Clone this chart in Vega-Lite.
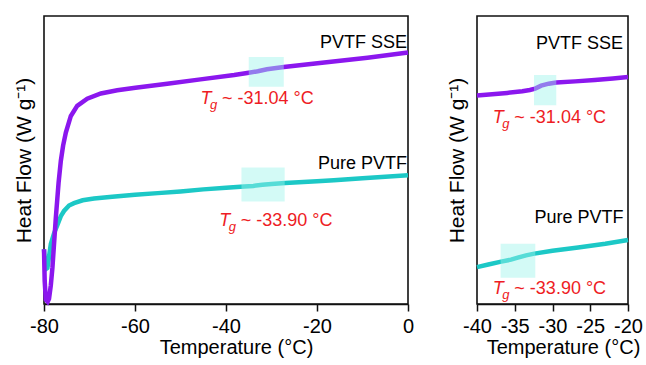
{
  "$schema": "https://vega.github.io/schema/vega-lite/v6.json",
  "background": "white",
  "padding": {"left": 12, "top": 15, "right": 5, "bottom": 5},
  "spacing": 27,
  "config": {
    "font": "Liberation Sans",
    "view": {"stroke": "#111", "strokeWidth": 1.6},
    "axis": {"grid": false, "labelColor": "#000", "titleColor": "#000", "titleFontWeight": "normal", "labelFont": "Liberation Sans", "titleFont": "Liberation Sans"},
    "axisX": {"labelFontSize": 20, "titleFontSize": 20, "tickSize": 7, "tickWidth": 1.5, "tickColor": "#111", "domainColor": "#111", "domainWidth": 1.6, "labelFlush": false, "labelOverlap": false, "labelPadding": 5, "titlePadding": 1, "labelExpr": "replace(datum.label, '−', '-')"},
    "axisY": {"labels": false, "ticks": false, "domain": false, "titleFontSize": 21, "titlePadding": 9.5}
  },
  "datasets": {
    "curves": [
      {"panel": "L", "series": "Pure PVTF", "T": -80, "HF": 19},
      {"panel": "L", "series": "Pure PVTF", "T": -79.7, "HF": 12},
      {"panel": "L", "series": "Pure PVTF", "T": -79.25, "HF": 12.5},
      {"panel": "L", "series": "Pure PVTF", "T": -78.5, "HF": 20.8},
      {"panel": "L", "series": "Pure PVTF", "T": -77.8, "HF": 24.5},
      {"panel": "L", "series": "Pure PVTF", "T": -77.05, "HF": 27.5},
      {"panel": "L", "series": "Pure PVTF", "T": -76.3, "HF": 30.5},
      {"panel": "L", "series": "Pure PVTF", "T": -75.6, "HF": 32.3},
      {"panel": "L", "series": "Pure PVTF", "T": -74.5, "HF": 34.2},
      {"panel": "L", "series": "Pure PVTF", "T": -73.4, "HF": 35.0},
      {"panel": "L", "series": "Pure PVTF", "T": -71.5, "HF": 36.0},
      {"panel": "L", "series": "Pure PVTF", "T": -69, "HF": 36.6},
      {"panel": "L", "series": "Pure PVTF", "T": -65, "HF": 37.2},
      {"panel": "L", "series": "Pure PVTF", "T": -60, "HF": 37.9},
      {"panel": "L", "series": "Pure PVTF", "T": -55, "HF": 38.5},
      {"panel": "L", "series": "Pure PVTF", "T": -50, "HF": 39.1},
      {"panel": "L", "series": "Pure PVTF", "T": -45, "HF": 39.8},
      {"panel": "L", "series": "Pure PVTF", "T": -40, "HF": 40.4},
      {"panel": "L", "series": "Pure PVTF", "T": -36, "HF": 40.8},
      {"panel": "L", "series": "Pure PVTF", "T": -34, "HF": 41.0},
      {"panel": "L", "series": "Pure PVTF", "T": -32, "HF": 41.4},
      {"panel": "L", "series": "Pure PVTF", "T": -30, "HF": 41.7},
      {"panel": "L", "series": "Pure PVTF", "T": -27, "HF": 42.0},
      {"panel": "L", "series": "Pure PVTF", "T": -20, "HF": 42.6},
      {"panel": "L", "series": "Pure PVTF", "T": -16.3, "HF": 43.0},
      {"panel": "L", "series": "Pure PVTF", "T": -10, "HF": 43.7},
      {"panel": "L", "series": "Pure PVTF", "T": 0, "HF": 44.7},
      {"panel": "L", "series": "PVTF SSE", "T": -80, "HF": 19},
      {"panel": "L", "series": "PVTF SSE", "T": -79.85, "HF": 8},
      {"panel": "L", "series": "PVTF SSE", "T": -79.6, "HF": 1.5},
      {"panel": "L", "series": "PVTF SSE", "T": -79.2, "HF": 0.8},
      {"panel": "L", "series": "PVTF SSE", "T": -78.9, "HF": 1.8},
      {"panel": "L", "series": "PVTF SSE", "T": -78.5, "HF": 6.5},
      {"panel": "L", "series": "PVTF SSE", "T": -78.15, "HF": 12.6},
      {"panel": "L", "series": "PVTF SSE", "T": -77.4, "HF": 30},
      {"panel": "L", "series": "PVTF SSE", "T": -76.8, "HF": 42},
      {"panel": "L", "series": "PVTF SSE", "T": -76.3, "HF": 49.7},
      {"panel": "L", "series": "PVTF SSE", "T": -75.8, "HF": 55},
      {"panel": "L", "series": "PVTF SSE", "T": -75.2, "HF": 59.5},
      {"panel": "L", "series": "PVTF SSE", "T": -74.1, "HF": 65.3},
      {"panel": "L", "series": "PVTF SSE", "T": -72.7, "HF": 68.8},
      {"panel": "L", "series": "PVTF SSE", "T": -70.5, "HF": 71.3},
      {"panel": "L", "series": "PVTF SSE", "T": -67.5, "HF": 73.1},
      {"panel": "L", "series": "PVTF SSE", "T": -63.9, "HF": 74.2},
      {"panel": "L", "series": "PVTF SSE", "T": -59.9, "HF": 75.1},
      {"panel": "L", "series": "PVTF SSE", "T": -52.9, "HF": 76.5},
      {"panel": "L", "series": "PVTF SSE", "T": -45.6, "HF": 78.0},
      {"panel": "L", "series": "PVTF SSE", "T": -38.2, "HF": 79.5},
      {"panel": "L", "series": "PVTF SSE", "T": -35, "HF": 80.3},
      {"panel": "L", "series": "PVTF SSE", "T": -33, "HF": 80.8},
      {"panel": "L", "series": "PVTF SSE", "T": -31, "HF": 81.5},
      {"panel": "L", "series": "PVTF SSE", "T": -27.3, "HF": 82.3},
      {"panel": "L", "series": "PVTF SSE", "T": -19.9, "HF": 83.6},
      {"panel": "L", "series": "PVTF SSE", "T": -8.9, "HF": 85.5},
      {"panel": "L", "series": "PVTF SSE", "T": 0, "HF": 87.3},
      {"panel": "R", "series": "Pure PVTF", "T": -40, "HF": 12.8},
      {"panel": "R", "series": "Pure PVTF", "T": -38.5, "HF": 13.7},
      {"panel": "R", "series": "Pure PVTF", "T": -36.8, "HF": 14.7},
      {"panel": "R", "series": "Pure PVTF", "T": -35.5, "HF": 15.4},
      {"panel": "R", "series": "Pure PVTF", "T": -34.6, "HF": 16.1},
      {"panel": "R", "series": "Pure PVTF", "T": -33.5, "HF": 16.9},
      {"panel": "R", "series": "Pure PVTF", "T": -32.4, "HF": 17.5},
      {"panel": "R", "series": "Pure PVTF", "T": -30, "HF": 18.5},
      {"panel": "R", "series": "Pure PVTF", "T": -26.6, "HF": 19.6},
      {"panel": "R", "series": "Pure PVTF", "T": -23, "HF": 20.9},
      {"panel": "R", "series": "Pure PVTF", "T": -20, "HF": 22.2},
      {"panel": "R", "series": "PVTF SSE", "T": -40, "HF": 72.4},
      {"panel": "R", "series": "PVTF SSE", "T": -38, "HF": 72.8},
      {"panel": "R", "series": "PVTF SSE", "T": -36, "HF": 73.3},
      {"panel": "R", "series": "PVTF SSE", "T": -34, "HF": 73.9},
      {"panel": "R", "series": "PVTF SSE", "T": -33, "HF": 74.3},
      {"panel": "R", "series": "PVTF SSE", "T": -32.3, "HF": 74.8},
      {"panel": "R", "series": "PVTF SSE", "T": -31.5, "HF": 75.8},
      {"panel": "R", "series": "PVTF SSE", "T": -30.5, "HF": 76.5},
      {"panel": "R", "series": "PVTF SSE", "T": -29.5, "HF": 76.9},
      {"panel": "R", "series": "PVTF SSE", "T": -27, "HF": 77.3},
      {"panel": "R", "series": "PVTF SSE", "T": -24.4, "HF": 77.8},
      {"panel": "R", "series": "PVTF SSE", "T": -22, "HF": 78.3},
      {"panel": "R", "series": "PVTF SSE", "T": -20, "HF": 78.8}
    ],
    "boxes": [
      {"panel": "L", "T": -35, "T2": -27.3, "HF": 75.4, "HF2": 85.8},
      {"panel": "L", "T": -36.6, "T2": -27.1, "HF": 35.6, "HF2": 47.4},
      {"panel": "R", "T": -32.45, "T2": -29.5, "HF": 69.0, "HF2": 79.5},
      {"panel": "R", "T": -36.87, "T2": -32.28, "HF": 9.1, "HF2": 20.9}
    ],
    "names": [
      {"panel": "L", "T": 0, "HF": 89.0, "label": "PVTF SSE"},
      {"panel": "L", "T": 0, "HF": 46.8, "label": "Pure PVTF"},
      {"panel": "R", "T": -20.66, "HF": 88.5, "label": "PVTF SSE"},
      {"panel": "R", "T": -20.6, "HF": 28.2, "label": "Pure PVTF"}
    ],
    "tg": [
      {"panel": "L", "T": -45.6, "HF": 69.4, "sym": "T", "sub": "g", "rest": "~ -31.04 °C"},
      {"panel": "L", "T": -41.5, "HF": 27.1, "sym": "T", "sub": "g", "rest": "~ -33.90 °C"},
      {"panel": "R", "T": -37.9, "HF": 63.0, "sym": "T", "sub": "g", "rest": "~ -31.04 °C"},
      {"panel": "R", "T": -37.9, "HF": 3.5, "sym": "T", "sub": "g", "rest": "~ -33.90 °C"}
    ]
  },
  "hconcat": [
    {
      "width": 364,
      "height": 288,
      "encoding": {
        "x": {"field": "T", "type": "quantitative", "scale": {"domain": [-80, 0], "nice": false, "zero": false}, "axis": {"values": [-80, -60, -40, -20, 0], "labelOverlap": false, "title": "Temperature (°C)", "titleX": 192}},
        "y": {"field": "HF", "type": "quantitative", "scale": {"domain": [0, 100], "nice": false, "zero": false}, "axis": {"title": "Heat Flow (W g⁻¹)"}}
      },
      "layer": [
        {
          "data": {"name": "curves"},
          "transform": [{"filter": "datum.panel === 'L' && datum.series === 'Pure PVTF'"}],
          "mark": {"type": "line", "color": "#1cc8c6", "strokeWidth": 4.5}
        },
        {
          "data": {"name": "curves"},
          "transform": [{"filter": "datum.panel === 'L' && datum.series === 'PVTF SSE'"}],
          "mark": {"type": "line", "color": "#8b17ee", "strokeWidth": 4.5}
        },
        {
          "data": {"name": "boxes"},
          "transform": [{"filter": "datum.panel === 'L'"}],
          "mark": {"type": "rect", "color": "#9ef3ec", "opacity": 0.45},
          "encoding": {"x2": {"field": "T2"}, "y2": {"field": "HF2"}}
        },
        {
          "data": {"name": "names"},
          "transform": [{"filter": "datum.panel === 'L'"}],
          "mark": {"type": "text", "align": "right", "baseline": "alphabetic", "fontSize": 18, "color": "#000", "dx": -1},
          "encoding": {"text": {"field": "label"}}
        },
        {
          "data": {"name": "tg"},
          "transform": [{"filter": "datum.panel === 'L'"}],
          "mark": {"type": "text", "align": "left", "baseline": "alphabetic", "fontSize": 18, "fontStyle": "italic", "color": "#ee1c24"},
          "encoding": {"text": {"field": "sym"}}
        },
        {
          "data": {"name": "tg"},
          "transform": [{"filter": "datum.panel === 'L'"}],
          "mark": {"type": "text", "align": "left", "baseline": "alphabetic", "fontSize": 13, "fontStyle": "italic", "color": "#ee1c24", "dx": 9.5, "dy": 5},
          "encoding": {"text": {"field": "sub"}}
        },
        {
          "data": {"name": "tg"},
          "transform": [{"filter": "datum.panel === 'L'"}],
          "mark": {"type": "text", "align": "left", "baseline": "alphabetic", "fontSize": 18, "color": "#ee1c24", "dx": 21.5},
          "encoding": {"text": {"field": "rest"}}
        }
      ]
    },
    {
      "width": 151,
      "height": 288,
      "encoding": {
        "x": {"field": "T", "type": "quantitative", "scale": {"domain": [-40, -20], "nice": false, "zero": false}, "axis": {"values": [-40, -35, -30, -25, -20], "labelOverlap": false, "labelSeparation": 0, "title": "Temperature (°C)", "titleX": 86}},
        "y": {"field": "HF", "type": "quantitative", "scale": {"domain": [0, 100], "nice": false, "zero": false}, "axis": {"title": "Heat Flow (W g⁻¹)"}}
      },
      "layer": [
        {
          "data": {"name": "curves"},
          "transform": [{"filter": "datum.panel === 'R' && datum.series === 'Pure PVTF'"}],
          "mark": {"type": "line", "color": "#1cc8c6", "strokeWidth": 4.5}
        },
        {
          "data": {"name": "curves"},
          "transform": [{"filter": "datum.panel === 'R' && datum.series === 'PVTF SSE'"}],
          "mark": {"type": "line", "color": "#8b17ee", "strokeWidth": 4.5}
        },
        {
          "data": {"name": "boxes"},
          "transform": [{"filter": "datum.panel === 'R'"}],
          "mark": {"type": "rect", "color": "#9ef3ec", "opacity": 0.45},
          "encoding": {"x2": {"field": "T2"}, "y2": {"field": "HF2"}}
        },
        {
          "data": {"name": "names"},
          "transform": [{"filter": "datum.panel === 'R'"}],
          "mark": {"type": "text", "align": "right", "baseline": "alphabetic", "fontSize": 18, "color": "#000"},
          "encoding": {"text": {"field": "label"}}
        },
        {
          "data": {"name": "tg"},
          "transform": [{"filter": "datum.panel === 'R'"}],
          "mark": {"type": "text", "align": "left", "baseline": "alphabetic", "fontSize": 18, "fontStyle": "italic", "color": "#ee1c24"},
          "encoding": {"text": {"field": "sym"}}
        },
        {
          "data": {"name": "tg"},
          "transform": [{"filter": "datum.panel === 'R'"}],
          "mark": {"type": "text", "align": "left", "baseline": "alphabetic", "fontSize": 13, "fontStyle": "italic", "color": "#ee1c24", "dx": 9.5, "dy": 5},
          "encoding": {"text": {"field": "sub"}}
        },
        {
          "data": {"name": "tg"},
          "transform": [{"filter": "datum.panel === 'R'"}],
          "mark": {"type": "text", "align": "left", "baseline": "alphabetic", "fontSize": 18, "color": "#ee1c24", "dx": 21.5},
          "encoding": {"text": {"field": "rest"}}
        }
      ]
    }
  ]
}
